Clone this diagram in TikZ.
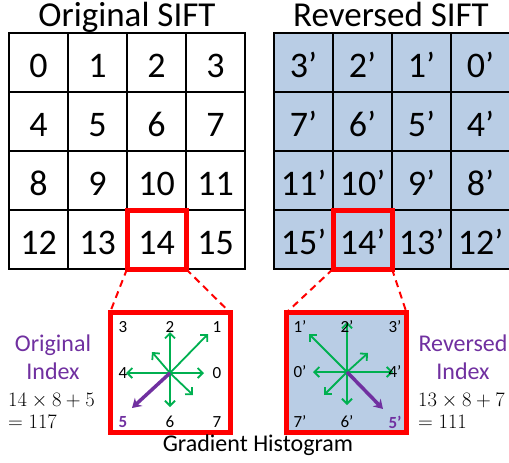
\RequirePackage{fix-cm}
\documentclass[tikz,border=0pt]{standalone}
\usepackage{fontspec}
\setmainfont{Carlito}
\usetikzlibrary{arrows.meta}
\definecolor{sred}{RGB}{255,0,0}
\definecolor{spurple}{RGB}{112,48,160}
\definecolor{sgreen}{RGB}{0,176,80}
\definecolor{sblue}{RGB}{185,205,229}
\tikzset{
  cellbox/.style={draw=black, line width=1.8pt, minimum size=59pt, inner sep=0pt, outer sep=0pt,
    font=\fontsize{36}{36}\selectfont, text height=29pt, text depth=0pt},
  title/.style={font=\fontsize{35}{35}\selectfont, anchor=base, inner sep=0pt},
  hilite/.style={draw=sred, line width=5pt},
  zoombox/.style={draw=sred, line width=5pt, minimum size=120pt, inner sep=0pt, outer sep=0pt},
  zoomline/.style={draw=sred, line width=2pt, dash pattern=on 7pt off 5pt},
  garrow/.style={draw=sgreen, line width=1.8pt, -{Straight Barb[length=5pt,width=10pt]}},
  parrow/.style={draw=spurple, line width=3.5pt, -{Stealth[length=9pt,width=11pt]}},
  glabel/.style={font=\fontsize{17}{17}\selectfont, inner sep=0pt},
  plabel/.style={font=\fontsize{17}{17}\selectfont\bfseries, text=spurple, inner sep=0pt},
  idxtext/.style={font=\fontsize{24}{24}\selectfont, text=spurple, inner sep=0pt, anchor=base},
  mathtext/.style={font=\fontsize{20.5}{20.5}\selectfont, inner sep=0pt, anchor=base west},
  captext/.style={font=\fontsize{24}{24}\selectfont, inner sep=0pt, anchor=base}
}
\begin{document}
\begin{tikzpicture}[x=1pt, y=-1pt]
\useasboundingbox (0,0) rectangle (509,463);
% titles
\node[title] (tl) at (127,26) {Original SIFT};
\node[title] (tr) at (391,26) {Reversed SIFT};
% left grid
\foreach \i in {0,...,15} {
  \pgfmathtruncatemacro{\c}{mod(\i,4)}
  \pgfmathtruncatemacro{\r}{int(\i/4)}
  \node[cellbox] (L\i) at ({9+29.5+59*\c},{33+29.5+59*\r}) {\i};
}
% right grid
\foreach \i in {0,...,15} {
  \pgfmathtruncatemacro{\c}{mod(\i,4)}
  \pgfmathtruncatemacro{\r}{int(\i/4)}
  \pgfmathtruncatemacro{\lab}{4*\r+3-\c}
  \node[cellbox, fill=sblue] (R\lab) at ({274+29.5+59*\c},{33+29.5+59*\r}) {\lab’};
}
\draw[hilite] (L14.south west) rectangle (L14.north east);
\draw[hilite] (R14.south west) rectangle (R14.north east);
% zoom boxes
\node[zoombox] (HL) at (170,372.5) {};
\node[zoombox, fill=sblue] (HR) at (346.5,372.5) {};
\draw[zoomline] (L14.south west) -- (HL.north west);
\draw[zoomline] (L14.south east) -- (HL.north east);
\draw[zoomline] (R14.south west) -- (HR.north west);
\draw[zoomline] (R14.south east) -- (HR.north east);
% left histogram
\coordinate (cl) at (170,373);
\path (cl) ++(34,0) coordinate (al0)
      (cl) ++(38,-39) coordinate (al1)
      (cl) ++(0,-41) coordinate (al2)
      (cl) ++(-18,-21) coordinate (al3)
      (cl) ++(-44,0) coordinate (al4)
      (cl) ++(-38,35) coordinate (al5)
      (cl) ++(0,34) coordinate (al6)
      (cl) ++(23,22) coordinate (al7);
\foreach \k in {0,1,2,3,4,6,7} { \draw[garrow] (cl) -- (al\k); }
\draw[parrow] (cl) -- (al5);
\node[glabel] (lg3) at (123,327) {3};
\node[glabel] (lg2) at (170,327) {2};
\node[glabel] (lg1) at (217,327) {1};
\node[glabel] (lg4) at (123,373) {4};
\node[glabel] (lg0) at (217,373) {0};
\node[plabel] (lg5) at (123,422) {5};
\node[glabel] (lg6) at (170,422) {6};
\node[glabel] (lg7) at (217,422) {7};
% right histogram
\coordinate (cr) at (347,372);
\path (cr) ++(-34,0) coordinate (ar0)
      (cr) ++(-38,-38) coordinate (ar1)
      (cr) ++(0,-50) coordinate (ar2)
      (cr) ++(21,-19) coordinate (ar3)
      (cr) ++(46,0) coordinate (ar4)
      (cr) ++(36,37) coordinate (ar5)
      (cr) ++(0,33) coordinate (ar6)
      (cr) ++(-23,23) coordinate (ar7);
\foreach \k in {0,1,2,3,4,6,7} { \draw[garrow] (cr) -- (ar\k); }
\draw[parrow] (cr) -- (ar5);
\node[glabel] (rg1) at (300,327) {1’};
\node[glabel] (rg2) at (347,327) {2’};
\node[glabel] (rg3) at (395,327) {3’};
\node[glabel] (rg0) at (300,372) {0’};
\node[glabel] (rg4) at (395,372) {4’};
\node[glabel] (rg7) at (300,422) {7’};
\node[glabel] (rg6) at (347,422) {6’};
\node[plabel] (rg5) at (395,422) {5’};
% index texts
\node[idxtext] (oi1) at (53,351) {Original};
\node[idxtext] (oi2) at (53,379) {Index};
\node[mathtext] (om1) at (8,406) {$14\times 8+5$};
\node[mathtext] (om2) at (8,428) {$=117$};
\node[idxtext] (ri1) at (463,351) {Reversed};
\node[idxtext] (ri2) at (463,379) {Index};
\node[mathtext] (rm1) at (418,406) {$13\times 8+7$};
\node[mathtext] (rm2) at (418,428) {$=111$};
\node[captext] (cap) at (258,451) {Gradient Histogram};
\end{tikzpicture}
\end{document}
